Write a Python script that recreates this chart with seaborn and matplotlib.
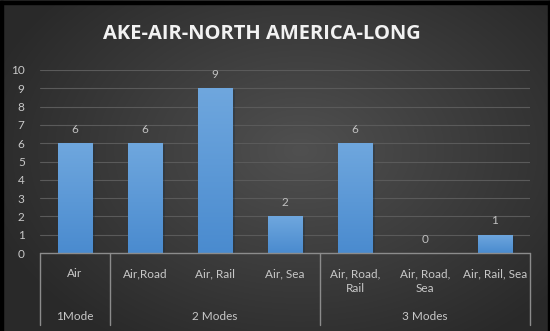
import numpy as np
import pandas as pd
import matplotlib
matplotlib.use("Agg")
import matplotlib.pyplot as plt
import matplotlib.patheffects as pe
from matplotlib.patches import Rectangle
from matplotlib.transforms import blended_transform_factory
from matplotlib.colors import LinearSegmentedColormap
import seaborn as sns

# ---- data ----
categories = ["Air", "Air,Road", "Air, Rail", "Air, Sea",
              "Air, Road, Rail", "Air, Road, Sea", "Air, Rail, Sea"]
tick_labels = ["Air", "Air,Road", "Air, Rail", "Air, Sea",
               "Air, Road,\nRail", "Air, Road,\nSea", "Air, Rail, Sea"]
counts = [6, 6, 9, 2, 6, 0, 1]
groups = ["1Mode", "2 Modes", "3 Modes"]
group_sizes = [1, 3, 3]
y_ticks = list(range(0, 11))

df = pd.DataFrame({"mode": categories, "count": counts})

sns.set_style("dark")
plt.rcParams["font.family"] = ["Lato", "DejaVu Sans"]

W, H = 550, 331
fig = plt.figure(figsize=(W / 100, H / 100), dpi=100)

# radial background
bg = fig.add_axes([0, 0, 1, 1], zorder=0)
yy, xx = np.mgrid[0:H, 0:W]
r = np.sqrt(((xx - 300) / 330.0) ** 2 + ((yy - 150) / 230.0) ** 2)
r = np.clip(r, 0, 1)
c0, c1 = np.array([0x50, 0x50, 0x50]) / 255, np.array([0x29, 0x29, 0x29]) / 255
img = c0[None, None, :] * (1 - r[..., None]) + c1[None, None, :] * r[..., None]
bg.imshow(img, extent=[0, W, H, 0], aspect="auto", interpolation="bilinear")
bg.set_xlim(0, W)
bg.set_ylim(H, 0)
bg.axis("off")

# dark frame edges
fig.patches.append(Rectangle((0, 1 - 4 / H), 1, 3 / H, transform=fig.transFigure,
                             color="black", zorder=5))
fig.patches.append(Rectangle((0, 0), 3 / W, 1 - 1 / H, transform=fig.transFigure,
                             color="black", zorder=5))
fig.patches.append(Rectangle((1 - 2 / W, 0), 2 / W, 1 - 1 / H, transform=fig.transFigure,
                             color="black", zorder=5))

# main axes
ax = fig.add_axes([40 / W, 78 / H, 490 / W, 183 / H], zorder=1)
ax.set_facecolor("none")

sns.barplot(data=df, x="mode", y="count", order=categories, color="#5b9bd5",
            width=0.5, saturation=1, ax=ax, zorder=3, errorbar=None,
            linewidth=0, edgecolor="none")

# vertical gradient on each bar
bar_cmap = LinearSegmentedColormap.from_list("bar", ["#4a8bcf", "#6fa7de"])
grad = np.linspace(0, 1, 256).reshape(-1, 1)
for patch in list(ax.patches):
    patch.set_path_effects([pe.SimplePatchShadow(offset=(1.5, -1.5), alpha=0.35),
                            pe.Normal()])
    h = patch.get_height()
    if h <= 0:
        continue
    x0 = patch.get_x()
    w = patch.get_width()
    im = ax.imshow(grad, extent=[x0, x0 + w, 0, h], origin="lower", cmap=bar_cmap,
                   aspect="auto", zorder=4, interpolation="bilinear")
    im.set_clip_path(patch)

ax.set_xlim(-0.5, len(categories) - 0.5)
ax.set_ylim(0, 10)
ax.set_yticks(y_ticks)
ax.set_xticks([])
ax.set_xlabel("")
ax.set_ylabel("")
for s in ax.spines.values():
    s.set_visible(False)
ax.grid(False)
for t in y_ticks[1:]:
    ax.axhline(t, color="#5a5a5a", lw=0.8, zorder=1)
ax.axhline(0, color="#8c8c8c", lw=1.0, zorder=5, clip_on=False)
ax.tick_params(axis="y", length=0, pad=11, labelcolor="#c8c8c8", labelsize=8.5)

# value labels
ax.bar_label(ax.containers[0], labels=[str(v) for v in counts], padding=6,
             color="#c0c0c0", fontsize=8.5)

# category labels
for i, lab in enumerate(tick_labels):
    ax.annotate(lab, xy=(i, 0), xycoords="data", xytext=(0, -15),
                textcoords="offset pixels", ha="center", va="top",
                color="#c8c8c8", fontsize=8.5, linespacing=1.4,
                annotation_clip=False)

# group labels and separators
xt = blended_transform_factory(ax.transData, ax.transAxes)
ax_h = 183.0
bounds = [-0.5]
for n in group_sizes:
    bounds.append(bounds[-1] + n)
for b in bounds:
    ax.plot([b, b], [0, -72 / ax_h], transform=xt, color="#8c8c8c", lw=1.0,
            clip_on=False, zorder=5)
for g, a, b in zip(groups, bounds[:-1], bounds[1:]):
    ax.text((a + b) / 2, -64 / ax_h, g, transform=xt, ha="center", va="center",
            color="#c8c8c8", fontsize=8.5)

fig.text(262 / W, 1 - 34 / H, "AKE-AIR-NORTH AMERICA-LONG", ha="center",
         va="center", color="#f2f2f2", fontsize=14.5, fontweight="bold",
         family=["Open Sans", "DejaVu Sans"])

fig.savefig("out.png", dpi=100)
